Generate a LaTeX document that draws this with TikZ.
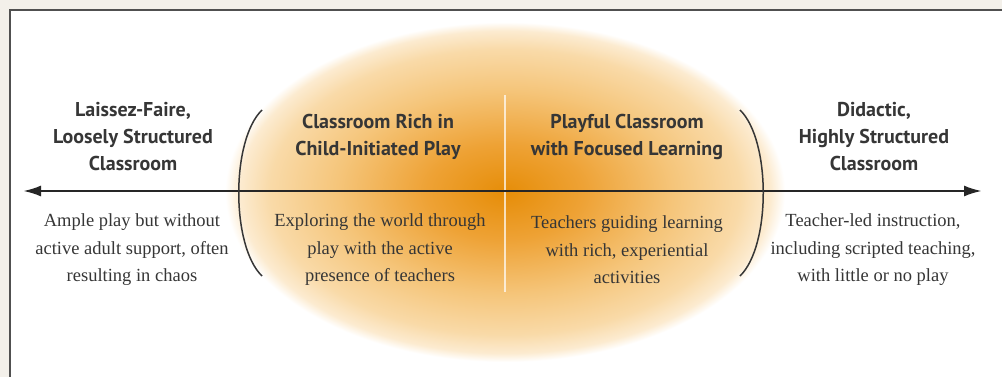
\documentclass[tikz,border=0pt]{standalone}
\usepackage{fontspec}
\setmainfont{Liberation Serif}
\newfontfamily\headfont{PT Sans}
\usetikzlibrary{arrows.meta,positioning}

\definecolor{paper}{HTML}{F3F0EA}
\definecolor{framegray}{HTML}{505050}
\definecolor{inkgray}{HTML}{363636}
\definecolor{glowcore}{HTML}{E68D08}
\definecolor{glowmid}{HTML}{EEA235}
\definecolor{glowpale}{HTML}{F5C57A}
\definecolor{glowedge}{HTML}{F9DAA8}
\definecolor{glowfade}{HTML}{FCEBD0}
\pgfdeclareradialshading{glow}{\pgfpoint{0bp}{0bp}}{color(0bp)=(glowcore); color(7bp)=(glowmid); color(15bp)=(glowpale); color(21bp)=(glowedge); color(23.7bp)=(glowfade); color(25bp)=(white); color(50bp)=(white)}

\begin{document}
\begin{tikzpicture}[
x=1pt, y=-1pt,
head/.style={align=center, text=inkgray, font=\headfont\bfseries\fontsize{20}{27}\selectfont},
desc/.style={align=center, text=inkgray, font=\fontsize{18.5}{27.5}\selectfont},
arrow/.style={{Latex[length=18pt,width=11pt]}-{Latex[length=18pt,width=11pt]}, line width=2.4pt, draw=black!85},
bracket/.style={line width=1.5pt, draw=inkgray}
]

% page and frame
\fill[paper] (0,0) rectangle (1002,377);
\useasboundingbox (0,0) rectangle (1002,377);
\fill[white] (10,10) rectangle (1002,377);
\draw[framegray, line width=2pt] (10,377) -- (10,10) -- (1002,10);

% glow
\shade[shading=glow] (505,192) ellipse [x radius=280, y radius=170];
\draw[white, line width=1.6pt, opacity=.7] (505,95) -- (505,292);

% headings
\node[head] (lax) at (133,137) {Laissez-Faire,\\Loosely Structured\\Classroom};
\node[head] (rich) at (378,137) {Classroom Rich in\\Child-Initiated Play};
\node[head] (playful) at (627,137) {Playful Classroom\\with Focused Learning};
\node[head] (didactic) at (874,137) {Didactic,\\Highly Structured\\Classroom};

% descriptions
\node[desc] (laxtext) at (132,250) {Ample play but without\\active adult support, often\\resulting in chaos};
\node[desc] (richtext) at (380,250) {Exploring the world through\\play with the active\\presence of teachers};
\node[desc] (playfultext) at (627,250) {Teachers guiding learning\\with rich, experiential\\activities};
\node[desc] (didactictext) at (873,250) {Teacher-led instruction,\\including scripted teaching,\\with little or no play};

% axis
\coordinate (west) at (23,191);
\coordinate (east) at (982,191);
\draw[arrow] (west) -- (east);

% brackets
\draw[bracket] (262,110) .. controls (231,140) and (231,246) .. (262,276);
\draw[bracket] (740,110) .. controls (771,140) and (771,246) .. (740,276);

\end{tikzpicture}
\end{document}
